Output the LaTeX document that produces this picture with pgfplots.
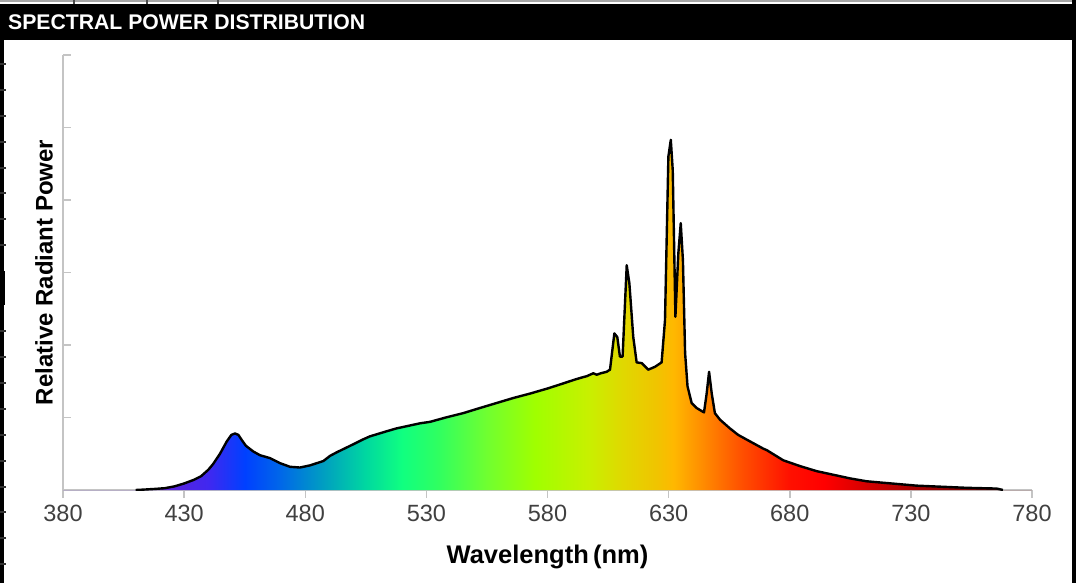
\documentclass[border=0pt]{standalone}
\usepackage{fontspec}
\setmainfont{Liberation Sans}
\usepackage{pgfplots}
\pgfplotsset{compat=1.18}
\usepackage{pgfplotstable}

\definecolor{axgray}{HTML}{C4C4C4}
\definecolor{tickgray}{HTML}{404040}
% spectrum colours, keyed by wavelength
\definecolor{s380}{HTML}{5A20C8}
\definecolor{s420}{HTML}{6020D8}
\definecolor{s440}{HTML}{4028F0}
\definecolor{s455}{HTML}{0040FF}
\definecolor{s470}{HTML}{0068E8}
\definecolor{s488}{HTML}{00A0C0}
\definecolor{s505}{HTML}{00D8A0}
\definecolor{s520}{HTML}{10FF80}
\definecolor{s535}{HTML}{30FF60}
\definecolor{s555}{HTML}{70FF30}
\definecolor{s575}{HTML}{A0FF00}
\definecolor{s597}{HTML}{C8F000}
\definecolor{s611}{HTML}{E0D800}
\definecolor{s625}{HTML}{F0C400}
\definecolor{s632}{HTML}{FFB800}
\definecolor{s645}{HTML}{FF8800}
\definecolor{s660}{HTML}{FF5000}
\definecolor{s680}{HTML}{FF1000}
\definecolor{s694}{HTML}{FF0000}
\definecolor{s714}{HTML}{D00000}
\definecolor{s735}{HTML}{A00000}
\definecolor{s760}{HTML}{700000}
\definecolor{s780}{HTML}{600000}

% 25bp..75bp is stretched over 380..780 nm (the fill path spans the full axis)
\pgfdeclarehorizontalshading{spectrum}{100bp}{
 color(0bp)=(s380); color(25bp)=(s380); color(30bp)=(s420);
 color(32.5bp)=(s440); color(34.375bp)=(s455); color(36.25bp)=(s470);
 color(38.5bp)=(s488); color(40.625bp)=(s505); color(42.5bp)=(s520);
 color(44.375bp)=(s535); color(46.875bp)=(s555); color(49.375bp)=(s575);
 color(52.125bp)=(s597); color(53.875bp)=(s611); color(55.625bp)=(s625);
 color(56.5bp)=(s632); color(58.125bp)=(s645); color(60bp)=(s660);
 color(62.5bp)=(s680); color(64.25bp)=(s694); color(66.75bp)=(s714);
 color(69.375bp)=(s735); color(72.5bp)=(s760); color(75bp)=(s780);
 color(100bp)=(s780)}

\pgfplotstableread{
nm val
380 0
410 0
413 0.005
418 0.015
422 0.025
426 0.05
430 0.09
434 0.14
437 0.19
440 0.28
442 0.36
444.8 0.50
447.6 0.67
449.5 0.76
451 0.78
452.4 0.76
454 0.68
455.5 0.61
458.6 0.53
461.3 0.48
465.4 0.44
469.6 0.37
473.7 0.32
477.8 0.31
482 0.34
487.5 0.40
490.2 0.47
493 0.52
499.8 0.63
504 0.70
506.7 0.74
513.6 0.81
517.7 0.85
520.5 0.87
527.4 0.92
531.5 0.94
538 1.00
545.2 1.06
552 1.13
559 1.20
566 1.27
572.8 1.33
580 1.40
586.5 1.47
591 1.52
594 1.55
596.2 1.57
598.9 1.61
600.3 1.59
602 1.61
604.4 1.63
605.8 1.66
607.6 2.16
608.8 2.11
609.9 1.84
611 1.84
612.7 3.10
613.8 2.85
615.4 2.11
616.8 1.76
618.9 1.75
621.6 1.66
624.4 1.70
627.1 1.76
628.5 2.34
629.9 4.60
630.9 4.83
631.7 4.41
632.8 2.39
634 3.26
635 3.68
635.9 3.17
636.8 1.89
637.8 1.43
639.5 1.20
641.6 1.13
644.6 1.07
645.7 1.33
646.7 1.63
647.8 1.33
649.1 1.06
651.2 0.97
655.3 0.85
658.7 0.76
663.6 0.67
669.1 0.57
670.5 0.55
677.3 0.41
684.2 0.33
691.1 0.26
698 0.21
704.9 0.16
711.8 0.12
718.6 0.10
725.5 0.08
732.4 0.06
739.3 0.05
753 0.03
765.4 0.02
768 0
780 0
}\spd

\begin{document}
\begin{tikzpicture}[x=1pt,y=1pt]
\useasboundingbox (0,0) rectangle (1083,583);
% page furniture: title bar and table borders
\fill[black] (0,543) rectangle (1076,579);
\node[anchor=base west, text=white, font=\bfseries\fontsize{21.2}{25}\selectfont, inner sep=0pt]
  at (8,553.5) {SPECTRAL POWER DISTRIBUTION};
\fill[gray!70] (0,580.5) rectangle (1076,583);
\foreach \xx in {74,147,218} \fill[black!70] (\xx-1,579) rectangle (\xx+1,583);
\fill[black] (1072,0) rectangle (1076,583);
\fill[black] (0,0) rectangle (3.5,543);
\fill[black] (0,278) rectangle (4.8,312);
\foreach \yy in {519,493,467,441,415,390,364,338,252,226,200,174,148,122,96,71,45,19}
  \fill[black!80] (0,\yy-0.6) rectangle (6,\yy+0.6);

\begin{axis}[
  at={(63pt,93pt)}, anchor=south west,
  scale only axis, width=969pt, height=435pt,
  xmin=380, xmax=780, ymin=0, ymax=6,
  axis x line*=bottom, axis y line*=left,
  axis line style={draw=axgray, line width=2pt},
  xtick={380,430,...,780}, ytick={0,1,...,6}, yticklabels={},
  tick align=inside, major tick length=8pt,
  tick style={draw=axgray, line width=1.5pt},
  xtick style={yshift=-8pt},
  /pgf/number format/assume math mode=true,
  ticklabel style={font=\fontsize{23.5}{27}\selectfont, text=tickgray},
  xticklabel style={yshift=-12pt},
  xlabel={Wavelength\,(nm)},
  ylabel={Relative Radiant Power},
  label style={font=\bfseries\fontsize{24}{28}\selectfont},
  xlabel style={font=\bfseries\fontsize{25.5}{29}\selectfont,
    at={(axis description cs:0.5,0)}, anchor=base, yshift=-73pt},
  ylabel style={at={(axis description cs:0,0.5)}, anchor=center, yshift=19pt},
]
\addplot[draw=none, shading=spectrum] table {\spd} \closedcycle;
\addplot[black, line width=2.4pt, line join=round, restrict x to domain=405:772] table {\spd};
\end{axis}
\end{tikzpicture}
\end{document}
